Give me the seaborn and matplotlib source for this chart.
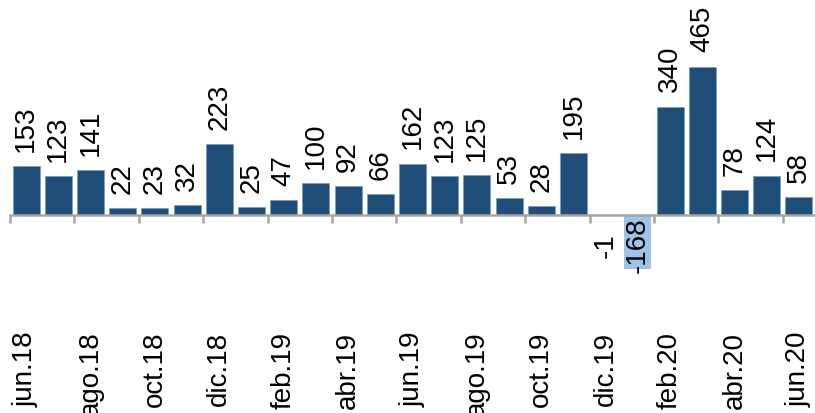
import matplotlib
matplotlib.use('Agg')
import matplotlib.pyplot as plt
import seaborn as sns
import pandas as pd
import numpy as np

months = ['jun.18', 'jul.18', 'ago.18', 'sep.18', 'oct.18', 'nov.18', 'dic.18',
          'ene.19', 'feb.19', 'mar.19', 'abr.19', 'may.19', 'jun.19', 'jul.19',
          'ago.19', 'sep.19', 'oct.19', 'nov.19', 'dic.19', 'ene.20', 'feb.20',
          'mar.20', 'abr.20', 'may.20', 'jun.20']
values = [153, 123, 141, 22, 23, 32, 223, 25, 47, 100, 92, 66, 162, 123, 125,
          53, 28, 195, -1, -168, 340, 465, 78, 124, 58]
shown_labels = months[::2]

DARK = '#1F4E79'
LIGHT = '#9DC3E6'
GRAY = '#A6A6A6'

sns.set_theme(style='white')
plt.rcParams['font.family'] = ['Liberation Sans', 'DejaVu Sans']

fig = plt.figure(figsize=(8.15, 4.14), dpi=100)
ax = fig.add_axes([10 / 815, 124 / 414, 805 / 815, 290 / 414])

df = pd.DataFrame({'mes': months, 'valor': values})
df['signo'] = np.where(df['valor'] >= 0, 'pos', 'neg')
sns.barplot(data=df, x='mes', y='valor', hue='signo', order=months,
            palette={'pos': DARK, 'neg': LIGHT}, dodge=False, legend=False,
            width=0.84, errorbar=None, saturation=1, ax=ax, zorder=2)

for p in ax.patches:
    if p.get_height() >= 0:
        p.set_edgecolor('#7f9cbc')
        p.set_linewidth(0.6)
    else:
        p.set_edgecolor(LIGHT)
        p.set_linewidth(0)

ax.set_xlim(-0.5, 24.5)
ax.set_ylim(-230, 676)

for s in ['top', 'right', 'left']:
    ax.spines[s].set_visible(False)
ax.spines['bottom'].set_position(('data', 0))
ax.spines['bottom'].set_color(GRAY)
ax.spines['bottom'].set_linewidth(1.8)
ax.spines['bottom'].set_zorder(3)

ax.set_yticks([])
ax.set_xticks(range(0, 25, 2))
ax.set_xticklabels(shown_labels, rotation=90, fontsize=20, color='black')
ax.set_xticks(np.arange(-0.5, 24, 2), minor=True)
ax.tick_params(axis='x', which='major', length=0, pad=83)
ax.tick_params(axis='x', which='minor', length=6, width=1.8, color=GRAY,
               direction='out', bottom=True)
ax.set_xlabel('')
ax.set_ylabel('')

for i, v in enumerate(values):
    if v >= 0:
        ax.annotate(str(v), xy=(i, v), xytext=(0, 11), textcoords='offset points',
                    rotation=90, ha='center', va='bottom', fontsize=20, color='black')
    else:
        ax.annotate(str(v), xy=(i, 0), xytext=(0, -21), textcoords='offset points',
                    rotation=90, ha='center', va='center', fontsize=20, color='black')

fig.savefig('out.png', dpi=100)
